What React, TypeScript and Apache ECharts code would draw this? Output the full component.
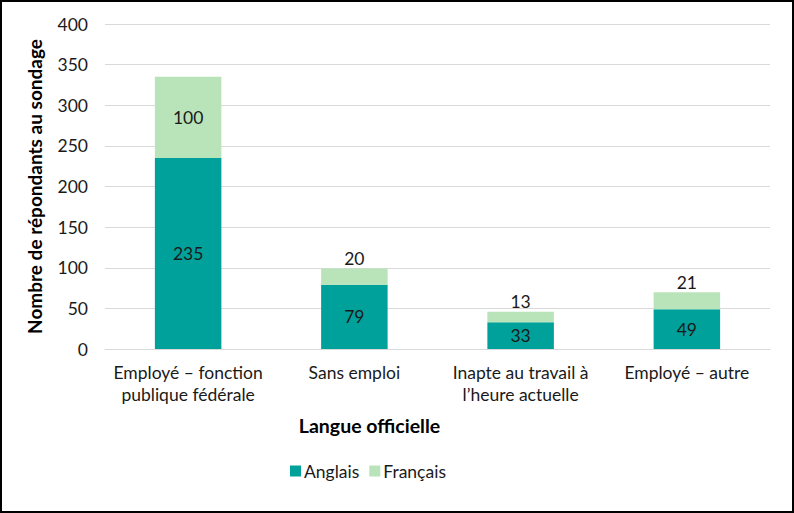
import React, { useEffect, useRef } from "react";
import * as echarts from "echarts";

const categories = [
  "Employé – fonction\npublique fédérale",
  "Sans emploi",
  "Inapte au travail à\nl’heure actuelle",
  "Employé – autre",
];
const anglais = [235, 79, 33, 49];
const francais = [100, 20, 13, 21];
const yTicks = { min: 0, max: 400, interval: 50 };

const FONT = "Lato, 'Open Sans', sans-serif";

export default function App() {
  const ref = useRef<HTMLDivElement>(null);
  useEffect(() => {
    document.body.style.margin = "0";
    const chart = echarts.init(ref.current!, null, { renderer: "svg" });
    chart.setOption({
      animation: false,
      textStyle: { fontFamily: FONT },
      grid: { left: 105, right: 24, top: 24, bottom: 164 },
      legend: {
        data: ["Anglais", "Français"],
        left: 285,
        top: 457,
        itemWidth: 11,
        itemHeight: 11,
        itemGap: 10,
        icon: "rect",
        textStyle: { fontSize: 17.5, color: "#1a1a1a", fontFamily: FONT, padding: [0, 0, 0, -2] },
      },
      xAxis: {
        type: "category",
        data: categories,
        name: "Langue officielle",
        nameLocation: "middle",
        nameGap: 66,
        nameTextStyle: {
          fontSize: 19.5,
          fontWeight: "bold",
          color: "#000",
          fontFamily: FONT,
          padding: [0, 136, 0, 0],
        },
        axisTick: { show: false },
        axisLine: { lineStyle: { color: "#d9d9d9", width: 1 } },
        axisLabel: {
          fontSize: 17.5,
          color: "#1a1a1a",
          lineHeight: 22,
          margin: 12,
          interval: 0,
          fontFamily: FONT,
        },
      },
      yAxis: {
        type: "value",
        min: yTicks.min,
        max: yTicks.max,
        interval: yTicks.interval,
        name: "Nombre de répondants au sondage",
        nameLocation: "middle",
        nameGap: 61,
        nameTextStyle: { fontSize: 19, fontWeight: "bold", color: "#000", fontFamily: FONT },
        axisLine: { show: false },
        axisTick: { show: false },
        axisLabel: { fontSize: 17.5, color: "#1a1a1a", margin: 17, fontFamily: FONT },
        splitLine: { lineStyle: { color: "#d9d9d9", width: 1 } },
      },
      series: [
        {
          name: "Anglais",
          type: "bar",
          stack: "total",
          barWidth: "40%",
          data: anglais,
          itemStyle: { color: "#00A19A" },
          label: {
            show: true,
            position: "inside",
            fontSize: 17.5,
            color: "#1a1a1a",
            fontFamily: FONT,
          },
        },
        {
          name: "Français",
          type: "bar",
          stack: "total",
          barWidth: "40%",
          data: francais.map((v, i) => ({
            value: v,
            label: { position: i === 0 ? "inside" : "top", distance: 1 },
          })),
          itemStyle: { color: "#B9E3B8" },
          label: {
            show: true,
            position: "inside",
            fontSize: 17.5,
            color: "#1a1a1a",
            fontFamily: FONT,
          },
        },
      ],
      graphic: [
        {
          type: "rect",
          shape: { x: 1, y: 1, width: 792, height: 511 },
          style: { fill: "none", stroke: "#000", lineWidth: 2 },
          silent: true,
        },
      ],
    });
    return () => chart.dispose();
  }, []);
  return <div ref={ref} style={{ width: 794, height: 513 }} />;
}
